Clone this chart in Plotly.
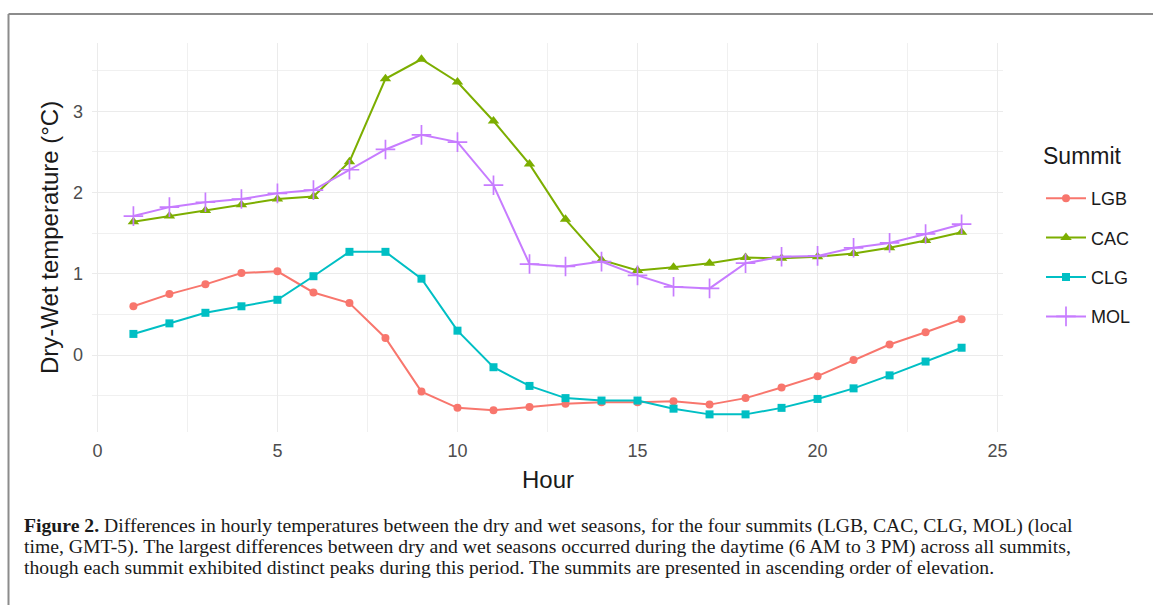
import plotly.graph_objects as go

hours = list(range(1, 25))
lgb = [0.60, 0.75, 0.87, 1.01, 1.03, 0.77, 0.64, 0.21, -0.45, -0.65, -0.68, -0.64,
       -0.60, -0.58, -0.58, -0.57, -0.61, -0.53, -0.40, -0.26, -0.06, 0.13, 0.28, 0.44]
cac = [1.64, 1.71, 1.78, 1.85, 1.92, 1.95, 2.38, 3.40, 3.64, 3.36, 2.88, 2.35,
       1.67, 1.17, 1.04, 1.08, 1.13, 1.20, 1.19, 1.21, 1.25, 1.32, 1.41, 1.51]
clg = [0.26, 0.39, 0.52, 0.60, 0.68, 0.97, 1.27, 1.27, 0.94, 0.30, -0.15, -0.38,
       -0.53, -0.56, -0.56, -0.66, -0.73, -0.73, -0.65, -0.54, -0.41, -0.25, -0.08, 0.09]
mol = [1.71, 1.82, 1.88, 1.92, 1.99, 2.03, 2.28, 2.53, 2.71, 2.62, 2.09, 1.12,
       1.09, 1.15, 0.98, 0.84, 0.82, 1.13, 1.21, 1.22, 1.32, 1.38, 1.49, 1.61]

series = [
    ("LGB", lgb, "#F8766D", "circle", 8),
    ("CAC", cac, "#7CAE00", "triangle-up", 10),
    ("CLG", clg, "#00BFC4", "square", 8),
    ("MOL", mol, "#C77CFF", "cross-thin", 14),
]

caption_lines = [
    "<b>Figure 2.</b> Differences in hourly temperatures between the dry and wet seasons, for the four summits (LGB, CAC, CLG, MOL) (local",
    "time, GMT-5). The largest differences between dry and wet seasons occurred during the daytime (6 AM to 3 PM) across all summits,",
    "though each summit exhibited distinct peaks during this period. The summits are presented in ascending order of elevation.",
]

W, H = 1153, 605
L, R, T, B = 92, 1003, 43, 432
pw, ph = R - L, B - T

def px(x):
    return (x - L) / pw

def py(y):
    return (B - y) / ph

fig = go.Figure()
for name, vals, color, sym, size in series:
    marker = dict(symbol=sym, size=size, color=color)
    if sym == "cross-thin":
        marker["line"] = dict(color=color, width=1.7)
    fig.add_trace(go.Scatter(
        x=hours, y=vals, name=name, mode="lines+markers",
        line=dict(color=color, width=2), marker=marker,
        legendgroup=name,
    ))

font = "Liberation Sans, Arial, sans-serif"
fig.update_layout(
    width=W, height=H,
    margin=dict(l=L, r=W - R, t=T, b=H - B),
    paper_bgcolor="white", plot_bgcolor="white",
    font=dict(family=font, color="#1a1a1a"),
    showlegend=True,
    legend=dict(
        x=px(1041), y=py(180), xanchor="left", yanchor="top",
        font=dict(size=18, color="#1a1a1a"),
        tracegroupgap=13, itemwidth=40,
    ),
    xaxis=dict(
        range=[-0.15, 25.15], tickvals=[0, 5, 10, 15, 20, 25], showline=False,
        zeroline=False, showgrid=True, gridcolor="#EBEBEB", gridwidth=1.2,
        minor=dict(dtick=2.5, tick0=0, showgrid=True, gridcolor="#F0F0F0", gridwidth=1),
        tickfont=dict(size=18, color="#4D4D4D"), ticks="", ticklabelstandoff=6,
    ),
    yaxis=dict(
        range=[-0.947, 3.84], tickvals=[0, 1, 2, 3], showline=False,
        zeroline=False, showgrid=True, gridcolor="#EBEBEB", gridwidth=1.2,
        minor=dict(dtick=0.5, tick0=0, showgrid=True, gridcolor="#F0F0F0", gridwidth=1),
        tickfont=dict(size=18, color="#4D4D4D"), ticks="", ticklabelstandoff=8,
    ),
)

annotations = [
    dict(text="Dry-Wet temperature (°C)", x=px(50), y=py(238), xref="paper", yref="paper",
         showarrow=False, textangle=-90, font=dict(size=24, color="#1a1a1a", family=font),
         xanchor="center", yanchor="middle"),
    dict(text="Hour", x=px(548), y=py(480), xref="paper", yref="paper",
         showarrow=False, font=dict(size=24, color="#1a1a1a", family=font),
         xanchor="center", yanchor="middle"),
    dict(text="Summit", x=px(1041), y=py(156), xref="paper", yref="paper",
         showarrow=False, font=dict(size=23, color="#1a1a1a", family=font),
         xanchor="left", yanchor="middle"),
]
for i, line in enumerate(caption_lines):
    annotations.append(dict(
        text=line, x=px(22), y=py(525 + 21 * i), xref="paper", yref="paper",
        showarrow=False, xanchor="left", yanchor="middle", align="left",
        font=dict(size=19.7, color="#1a1a1a", family="Liberation Serif, Times New Roman, serif"),
    ))
fig.update_layout(annotations=annotations)

fig.add_shape(type="line", xref="paper", yref="paper", x0=px(8.5), x1=px(1160),
              y0=py(14), y1=py(14), line=dict(color="#8c8c8c", width=2))
fig.add_shape(type="line", xref="paper", yref="paper", x0=px(8.5), x1=px(8.5),
              y0=py(14), y1=py(615), line=dict(color="#8c8c8c", width=2))

fig.write_html("out.html")
